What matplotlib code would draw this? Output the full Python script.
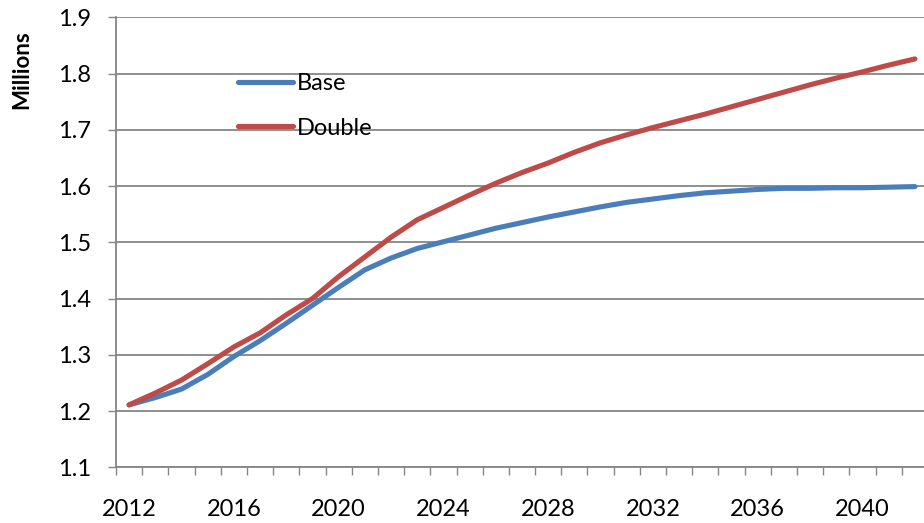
import matplotlib
matplotlib.use("Agg")
import matplotlib.pyplot as plt
from matplotlib.ticker import FixedLocator, NullFormatter
import numpy as np

# data (values in millions)
years = list(range(2012, 2043))
base = [1.211, 1.224, 1.239, 1.265, 1.297, 1.325, 1.356, 1.388, 1.420, 1.451,
        1.472, 1.489, 1.501, 1.513, 1.525, 1.535, 1.545, 1.554, 1.563, 1.571,
        1.577, 1.583, 1.588, 1.591, 1.594, 1.596, 1.596, 1.597, 1.597, 1.598,
        1.599]
double = [1.211, 1.232, 1.255, 1.284, 1.314, 1.339, 1.371, 1.400, 1.439, 1.474,
          1.509, 1.540, 1.562, 1.584, 1.605, 1.624, 1.641, 1.660, 1.677, 1.691,
          1.704, 1.716, 1.728, 1.741, 1.754, 1.767, 1.780, 1.792, 1.803, 1.815,
          1.826]
yticks = [1.1, 1.2, 1.3, 1.4, 1.5, 1.6, 1.7, 1.8, 1.9]
label_every = 4

FONT = "Lato"
GRID = "#868686"
W, H = 924, 523

fig = plt.figure(figsize=(W / 100, H / 100), dpi=100)
left, right, top, bottom = 116 / W, 928 / W, 17.3 / H, 467.3 / H
ax = fig.add_axes([left, 1 - bottom, right - left, bottom - top])

x = np.arange(len(years))
ax.plot(x, base, color="#4A7EBB", lw=3.7, solid_capstyle="round",
        solid_joinstyle="round", label="Base", zorder=3)
ax.plot(x, double, color="#BE4B48", lw=3.7, solid_capstyle="round",
        solid_joinstyle="round", label="Double", zorder=3)

ax.set_xlim(-0.5, len(years) - 0.5)
ax.set_ylim(yticks[0], yticks[-1])

# category axis: labels at every 4th category, tick marks between categories
ax.xaxis.set_major_locator(FixedLocator(x[::label_every]))
ax.set_xticklabels([str(y) for y in years[::label_every]])
ax.xaxis.set_minor_locator(FixedLocator(np.arange(len(years) + 1) - 0.5))
ax.xaxis.set_minor_formatter(NullFormatter())
ax.tick_params(axis="x", which="major", length=0, pad=23)
ax.tick_params(axis="x", which="minor", length=5.5, width=1, color=GRID)

ax.set_yticks(yticks)
ax.set_yticklabels([f"{v:.1f}" for v in yticks])
ax.tick_params(axis="y", length=6, width=1, color=GRID, pad=12)

for lab in ax.get_xticklabels() + ax.get_yticklabels():
    lab.set_fontfamily(FONT)
    lab.set_fontsize(17)
    lab.set_color("black")

ax.grid(axis="y", color=GRID, lw=1.3)
ax.set_axisbelow(True)
for side in ("top", "right"):
    ax.spines[side].set_visible(False)
for side in ("left", "bottom"):
    ax.spines[side].set_color(GRID)
    ax.spines[side].set_linewidth(1.3)

fig.text(22 / W, 1 - 70 / H, "Millions", rotation=90, ha="center",
         va="center", fontfamily=FONT, fontweight="bold", fontsize=16)

ax.legend(loc="upper left", bbox_to_anchor=(238 / W, 1 - 73 / H),
          bbox_transform=fig.transFigure, frameon=False, borderpad=0,
          borderaxespad=0, handlelength=2.35, handletextpad=0.15,
          labelspacing=1.0, prop={"family": FONT, "size": 17})

fig.savefig("out.png", dpi=100)
